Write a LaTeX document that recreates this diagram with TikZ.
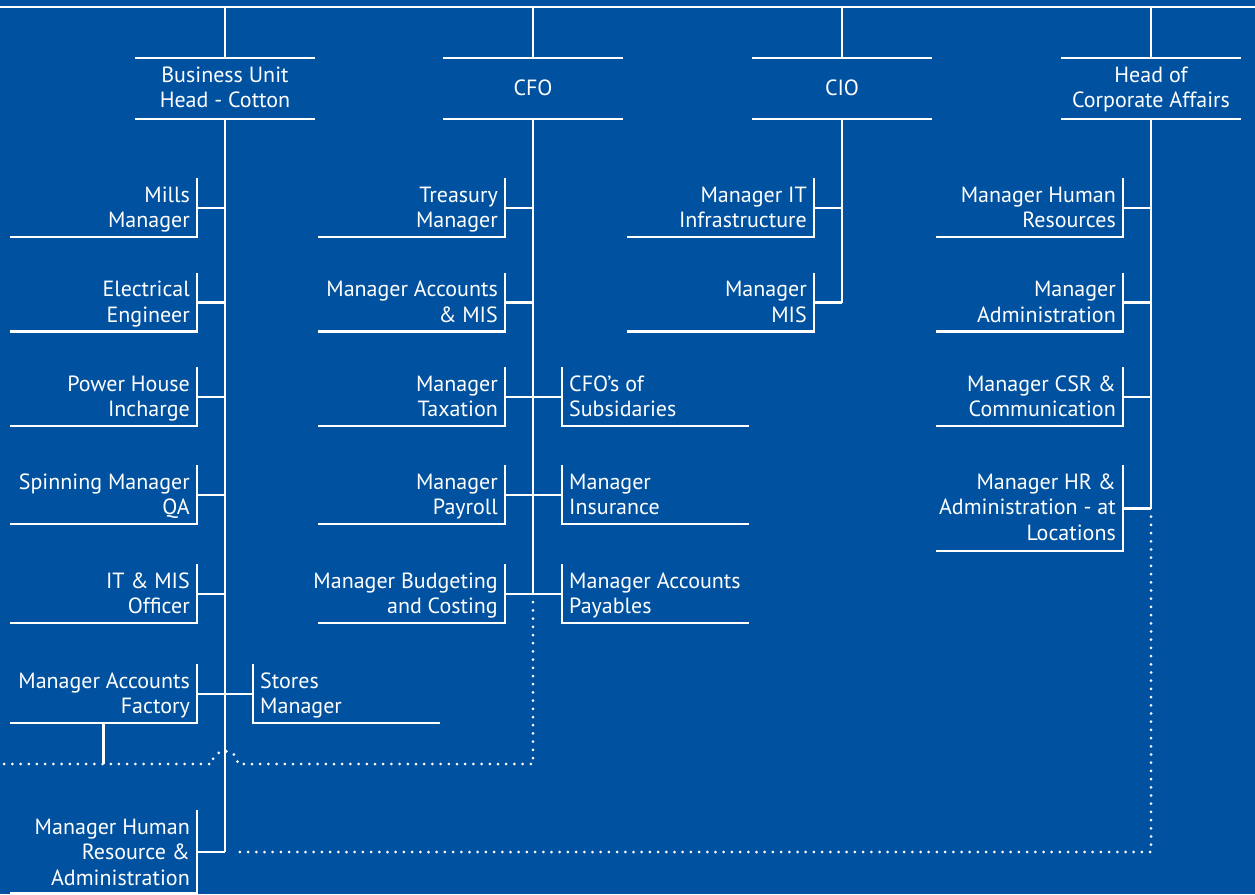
\documentclass[tikz,border=0pt]{standalone}
\usepackage{fontspec}
\setmainfont{PT Sans}
\definecolor{bg}{RGB}{0,82,160}
\tikzset{
 ln/.style={draw=white, line width=2.8pt},
 dots/.style={draw=white, line width=3pt, line cap=round, dash pattern=on 0pt off 8.2pt},
 lbl/.style={text=white, inner sep=0pt, font=\fontsize{22}{25.5}\selectfont},
}
% #1 name, #2 vertical x, #3 top, #4 height, #5 number of lines, #6 text
\newcommand\childL[6]{%
 \node[lbl, align=right, anchor=base east] (#1) at ({#2-7},{#3+24+(#5-1)*25.5}) {#6};
 \draw[ln] (#2,#3) -- (#2,{#3+#4}) -- ({#2-187},{#3+#4});
 \coordinate (#1-c) at (#2,{#3+#4/2+0.5});
}
\newcommand\childR[6]{%
 \node[lbl, align=left, anchor=base west] (#1) at ({#2+7},{#3+24+(#5-1)*25.5}) {#6};
 \draw[ln] (#2,#3) -- (#2,{#3+#4}) -- ({#2+187},{#3+#4});
 \coordinate (#1-c) at (#2,{#3+#4/2+0.5});
}
\newcommand\headbox[4]{%
 \draw[ln] ({#2-90},58) -- ({#2+90},58);
 \draw[ln] ({#2-90},119) -- ({#2+90},119);
 \node[lbl, align=center, anchor=base] (#1) at (#2,#3) {#4};
 \coordinate (#1-t) at (#2,58);
 \coordinate (#1-b) at (#2,119);
}
\begin{document}
\begin{tikzpicture}[x=1pt,y=-1pt]
\fill[bg] (0,0) rectangle (1255,894);
\useasboundingbox (0,0) rectangle (1255,894);
% top bar
\coordinate (topL) at (0,7);
\coordinate (topR) at (1255,7);
\draw[ln] (topL) -- (topR);
% headers
\headbox{bu}{225}{107.7}{Business Unit\\Head - Cotton}
\headbox{cfo}{533}{95}{CFO}
\headbox{cio}{842}{95}{CIO}
\headbox{hc}{1151}{107.7}{Head of\\Corporate Affairs}
\foreach \h in {bu,cfo,cio,hc}{\draw[ln] (\h-t) -- (\h-t |- topL);}
% BU children
\childL{mills}{197}{178}{59}{2}{Mills\\Manager}
\childL{elec}{197}{272.5}{59}{2}{Electrical\\Engineer}
\childL{power}{197}{367}{59}{2}{Power House\\Incharge}
\childL{spin}{197}{465}{59}{2}{Spinning Manager\\QA}
\childL{itmis}{197}{564}{59}{2}{IT \& MIS\\Officer}
\childL{fac}{197}{664}{59}{2}{Manager Accounts\\Factory}
\childR{stores}{253}{664}{59}{2}{Stores\\Manager}
\childL{hr}{197}{810}{83}{3}{Manager Human\\Resource \&\\Administration}
% CFO children
\childL{treas}{505}{178}{59}{2}{Treasury\\Manager}
\childL{accmis}{505}{272.5}{59}{2}{Manager Accounts\\\& MIS}
\childL{tax}{505}{367}{59}{2}{Manager\\Taxation}
\childL{pay}{505}{465}{59}{2}{Manager\\Payroll}
\childL{budget}{505}{564}{59}{2}{Manager Budgeting\\and Costing}
\childR{cfos}{562}{367}{59}{2}{CFO’s of\\Subsidaries}
\childR{ins}{562}{465}{59}{2}{Manager\\Insurance}
\childR{accpay}{562}{564}{59}{2}{Manager Accounts\\Payables}
% CIO children
\childL{itinf}{814}{178}{59}{2}{Manager IT\\Infrastructure}
\childL{mis}{814}{272.5}{59}{2}{Manager\\MIS}
% HC children
\childL{hres}{1123}{178}{59}{2}{Manager Human\\Resources}
\childL{admin}{1123}{272.5}{59}{2}{Manager\\Administration}
\childL{csr}{1123}{367}{59}{2}{Manager CSR \&\\Communication}
\childL{hrloc}{1123}{465}{86}{3}{Manager HR \&\\Administration - at\\Locations}
% main verticals
\draw[ln] (bu-b) -- (bu-b |- hr-c);
\draw[ln] (cfo-b) -- (cfo-b |- budget-c);
\draw[ln] (cio-b) -- (cio-b |- mis-c);
\draw[ln] (hc-b) -- (hc-b |- hrloc-c);
% connectors
\foreach \c in {mills,elec,power,spin,itmis,hr}{\draw[ln] (\c-c) -- (\c-c -| bu-b);}
\draw[ln] (fac-c) -- (stores-c);
\foreach \c in {treas,accmis,tax,pay,budget,cfos,ins,accpay}{\draw[ln] (\c-c) -- (\c-c -| cfo-b);}
\foreach \c in {itinf,mis}{\draw[ln] (\c-c) -- (\c-c -| cio-b);}
\foreach \c in {hres,admin,csr,hrloc}{\draw[ln] (\c-c) -- (\c-c -| hc-b);}
% dotted links
\coordinate (dr) at (0,764);
\coordinate (facdrop) at (103.6,723);
\coordinate (bumpR) at (238,764);
\draw[ln] (facdrop) -- (facdrop |- dr);
\draw[dots] (cfo-b |- budget-c) ++(0,8.2) -- (cfo-b |- dr) -- (bumpR) arc[start angle=0, end angle=180, radius=13pt] -- (dr);
\draw[dots] (hc-b |- hrloc-c) ++(0,8.2) -- (hc-b |- hr-c) -- ([xshift=8pt]bu-b |- hr-c);
\end{tikzpicture}
\end{document}
